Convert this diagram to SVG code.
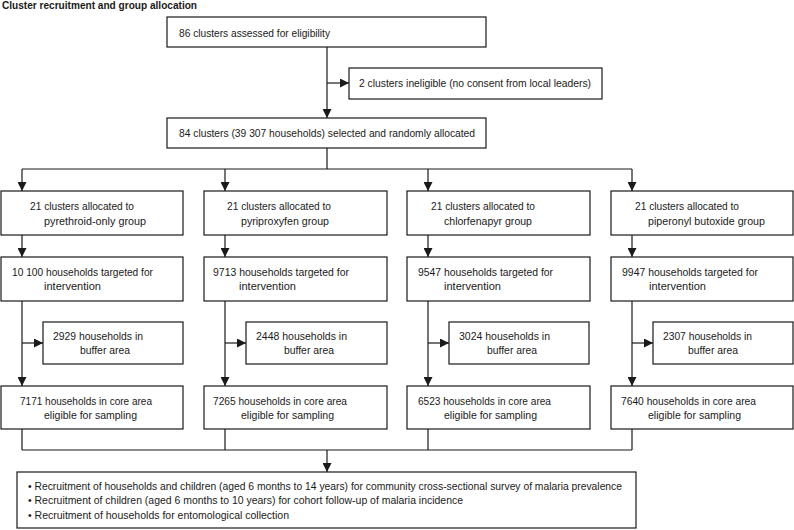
<svg xmlns="http://www.w3.org/2000/svg" width="794" height="530" viewBox="0 0 794 530">
<defs>
<marker id="ah" markerUnits="userSpaceOnUse" markerWidth="9" markerHeight="9" refX="9" refY="4.5" orient="auto">
<path d="M0,0 L9,4.5 L0,9 z" fill="#1a1a1a"/>
</marker>
</defs>
<style>
text{font-family:"Liberation Sans",Arial,sans-serif;font-size:11px;fill:#1a1a1a}
.title{font-weight:bold;font-size:10px}
rect{fill:#fff;stroke:#1a1a1a;stroke-width:1.2}
.c{fill:none;stroke:#1a1a1a;stroke-width:1.2}
.a{fill:none;stroke:#1a1a1a;stroke-width:1.2;marker-end:url(#ah)}
</style>
<rect width="794" height="530" style="fill:#fff;stroke:none"/>
<text class="title" x="2" y="8.5" textLength="195" lengthAdjust="spacingAndGlyphs">Cluster recruitment and group allocation</text>

<g id="connectors">
<path class="a" d="M327,47 V118"/>
<path class="a" d="M327,83 H349"/>
<path class="c" d="M327,148 V169 M22,169 H632"/>
<path class="a" d="M22,169 V191"/>
<path class="a" d="M225,169 V191"/>
<path class="a" d="M428,169 V191"/>
<path class="a" d="M632,169 V191"/>
<path class="a" d="M22,235 V257"/>
<path class="a" d="M225,235 V257"/>
<path class="a" d="M428,235 V257"/>
<path class="a" d="M632,235 V257"/>
<path class="a" d="M22,301 V386"/>
<path class="a" d="M225,301 V386"/>
<path class="a" d="M428,301 V386"/>
<path class="a" d="M632,301 V386"/>
<path class="a" d="M22,343 H43"/>
<path class="a" d="M225,343 H246"/>
<path class="a" d="M428,343 H449"/>
<path class="a" d="M632,343 H653"/>
<path class="c" d="M22,429 V450 M225,429 V450 M428,429 V450 M632,429 V450 M22,450 H632"/>
<path class="a" d="M327,450 V472"/>
</g>

<g id="assessed">
<rect x="167" y="17" width="319" height="30"/>
<text x="179" y="36.5" textLength="151" lengthAdjust="spacingAndGlyphs">86 clusters assessed for eligibility</text>
</g>
<g id="ineligible">
<rect x="349" y="68" width="253" height="31"/>
<text x="359" y="87" textLength="232" lengthAdjust="spacingAndGlyphs">2 clusters ineligible (no consent from local leaders)</text>
</g>
<g id="selected">
<rect x="167" y="118" width="319" height="30"/>
<text x="179" y="137" textLength="296" lengthAdjust="spacingAndGlyphs">84 clusters (39 307 households) selected and randomly allocated</text>
</g>

<g id="group-pyrethroid">
<rect x="1" y="191" width="182" height="44"/>
<text x="30" y="210" textLength="104" lengthAdjust="spacingAndGlyphs">21 clusters allocated to</text>
<text x="44" y="224.5" textLength="102" lengthAdjust="spacingAndGlyphs">pyrethroid-only group</text>
</g>
<g id="group-pyriproxyfen">
<rect x="204" y="191" width="183" height="44"/>
<text x="227" y="210" textLength="104" lengthAdjust="spacingAndGlyphs">21 clusters allocated to</text>
<text x="241" y="224.5" textLength="88" lengthAdjust="spacingAndGlyphs">pyriproxyfen group</text>
</g>
<g id="group-chlorfenapyr">
<rect x="407" y="191" width="183" height="44"/>
<text x="431" y="210" textLength="104" lengthAdjust="spacingAndGlyphs">21 clusters allocated to</text>
<text x="444" y="224.5" textLength="88" lengthAdjust="spacingAndGlyphs">chlorfenapyr group</text>
</g>
<g id="group-pbo">
<rect x="611" y="191" width="182" height="44"/>
<text x="635" y="210" textLength="104" lengthAdjust="spacingAndGlyphs">21 clusters allocated to</text>
<text x="648" y="224.5" textLength="117" lengthAdjust="spacingAndGlyphs">piperonyl butoxide group</text>
</g>

<g id="targeted-1">
<rect x="1" y="257" width="182" height="44"/>
<text x="12" y="276" textLength="141" lengthAdjust="spacingAndGlyphs">10 100 households targeted for</text>
<text x="44" y="290" textLength="57" lengthAdjust="spacingAndGlyphs">intervention</text>
</g>
<g id="targeted-2">
<rect x="204" y="257" width="183" height="44"/>
<text x="213" y="276" textLength="136" lengthAdjust="spacingAndGlyphs">9713 households targeted for</text>
<text x="239" y="290" textLength="57" lengthAdjust="spacingAndGlyphs">intervention</text>
</g>
<g id="targeted-3">
<rect x="407" y="257" width="183" height="44"/>
<text x="418" y="276" textLength="135" lengthAdjust="spacingAndGlyphs">9547 households targeted for</text>
<text x="444" y="290" textLength="57" lengthAdjust="spacingAndGlyphs">intervention</text>
</g>
<g id="targeted-4">
<rect x="611" y="257" width="182" height="44"/>
<text x="622" y="276" textLength="136" lengthAdjust="spacingAndGlyphs">9947 households targeted for</text>
<text x="649" y="290" textLength="57" lengthAdjust="spacingAndGlyphs">intervention</text>
</g>

<g id="buffer-1">
<rect x="43" y="322" width="140" height="42"/>
<text x="53" y="340" textLength="90" lengthAdjust="spacingAndGlyphs">2929 households in</text>
<text x="80" y="354" textLength="50" lengthAdjust="spacingAndGlyphs">buffer area</text>
</g>
<g id="buffer-2">
<rect x="246" y="322" width="141" height="42"/>
<text x="256" y="340" textLength="91" lengthAdjust="spacingAndGlyphs">2448 households in</text>
<text x="284" y="354" textLength="50" lengthAdjust="spacingAndGlyphs">buffer area</text>
</g>
<g id="buffer-3">
<rect x="449" y="322" width="140" height="42"/>
<text x="459" y="340" textLength="91" lengthAdjust="spacingAndGlyphs">3024 households in</text>
<text x="487" y="354" textLength="50" lengthAdjust="spacingAndGlyphs">buffer area</text>
</g>
<g id="buffer-4">
<rect x="653" y="322" width="140" height="42"/>
<text x="663" y="340" textLength="89" lengthAdjust="spacingAndGlyphs">2307 households in</text>
<text x="688" y="354" textLength="50" lengthAdjust="spacingAndGlyphs">buffer area</text>
</g>

<g id="core-1">
<rect x="1" y="386" width="182" height="43"/>
<text x="20" y="405" textLength="132" lengthAdjust="spacingAndGlyphs">7171 households in core area</text>
<text x="44" y="419" textLength="93" lengthAdjust="spacingAndGlyphs">eligible for sampling</text>
</g>
<g id="core-2">
<rect x="204" y="386" width="183" height="43"/>
<text x="213" y="405" textLength="134" lengthAdjust="spacingAndGlyphs">7265 households in core area</text>
<text x="241" y="419" textLength="93" lengthAdjust="spacingAndGlyphs">eligible for sampling</text>
</g>
<g id="core-3">
<rect x="407" y="386" width="183" height="43"/>
<text x="418" y="405" textLength="133" lengthAdjust="spacingAndGlyphs">6523 households in core area</text>
<text x="444" y="419" textLength="93" lengthAdjust="spacingAndGlyphs">eligible for sampling</text>
</g>
<g id="core-4">
<rect x="611" y="386" width="182" height="43"/>
<text x="621" y="405" textLength="135" lengthAdjust="spacingAndGlyphs">7640 households in core area</text>
<text x="648" y="419" textLength="93" lengthAdjust="spacingAndGlyphs">eligible for sampling</text>
</g>

<g id="recruitment">
<rect x="17" y="472" width="619" height="56"/>
<text x="28" y="489.5" textLength="594" lengthAdjust="spacingAndGlyphs">• Recruitment of households and children (aged 6 months to 14 years) for community cross-sectional survey of malaria prevalence</text>
<text x="28" y="504" textLength="435" lengthAdjust="spacingAndGlyphs">• Recruitment of children (aged 6 months to 10 years) for cohort follow-up of malaria incidence</text>
<text x="28" y="518.5" textLength="261" lengthAdjust="spacingAndGlyphs">• Recruitment of households for entomological collection</text>
</g>
</svg>
